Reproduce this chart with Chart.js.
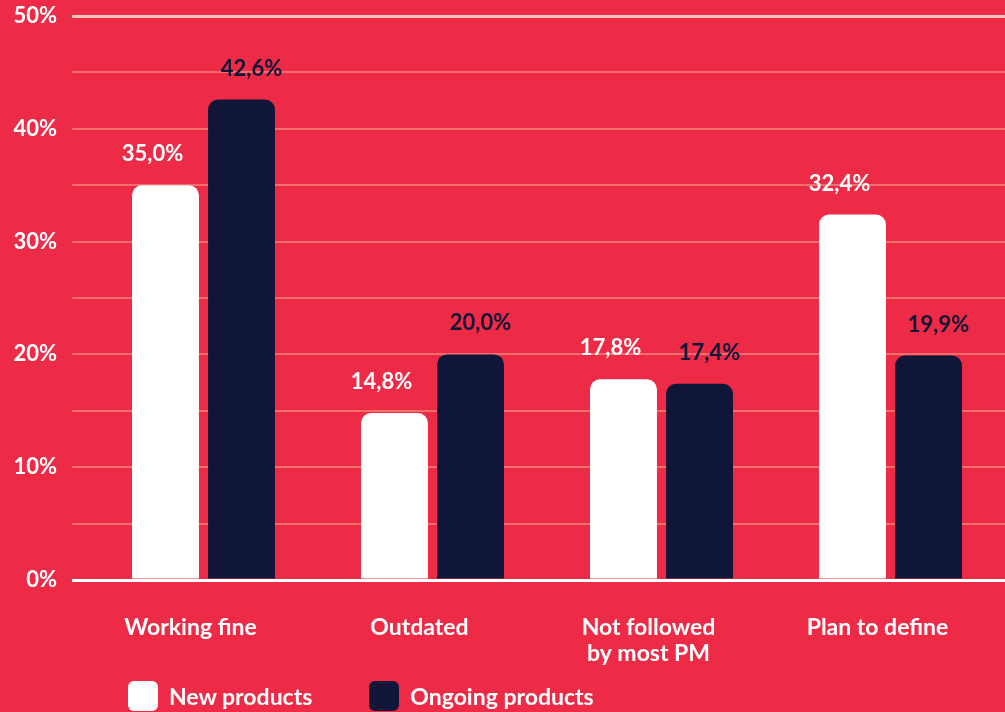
<!DOCTYPE html>
<html>
<head>
<meta charset="utf-8">
<script src="https://cdn.jsdelivr.net/npm/chart.js@4.4.1/dist/chart.umd.min.js"></script>
<style>
  body { margin: 0; background: #ED2B47; }
  #wrap { position: relative; width: 1005px; height: 712px; overflow: hidden; background: #ED2B47; }
  #legend { position: absolute; left: 128px; top: 681px; display: flex; align-items: center;
            font-family: Lato, sans-serif; font-weight: bold; font-size: 23px; color: #fff; }
  #legend .item { display: flex; align-items: center; margin-right: 57px; }
  #legend .box { width: 30px; height: 30px; border-radius: 6px; margin-right: 11px; }
</style>
</head>
<body>
<div id="wrap">
  <canvas id="chart" width="1005" height="712"></canvas>
  <div id="legend"></div>
</div>
<script>
// categories and values
const categories = ['Working fine', 'Outdated', ['Not followed', 'by most PM'], 'Plan to define'];
const newProducts = [35.0, 14.8, 17.8, 32.4];
const ongoingProducts = [42.6, 20.0, 17.4, 19.9];
const seriesNames = ['New products', 'Ongoing products'];
const yTicks = [0, 10, 20, 30, 40, 50];

const NAVY = '#0F1638';
const WHITE = '#FFFFFF';

// value labels above the bars
const valueLabels = {
  id: 'valueLabels',
  afterDatasetsDraw(chart) {
    const ctx = chart.ctx;
    ctx.save();
    ctx.font = 'bold 22px Lato, sans-serif';
    ctx.textAlign = 'center';
    ctx.textBaseline = 'middle';
    chart.data.datasets.forEach((ds, i) => {
      const meta = chart.getDatasetMeta(i);
      const dx = i === 0 ? -13 : 10;
      ctx.fillStyle = ds.labelColor;
      meta.data.forEach((bar, j) => {
        const txt = ds.data[j].toFixed(1).replace('.', ',') + '%';
        ctx.fillText(txt, bar.x + dx, bar.y - 31);
      });
    });
    ctx.restore();
  }
};

const radius = { topLeft: 10, topRight: 10, bottomLeft: 0, bottomRight: 0 };

const chart = new Chart(document.getElementById('chart'), {
  type: 'bar',
  data: {
    labels: categories,
    datasets: [
      { label: seriesNames[0], data: newProducts, backgroundColor: WHITE, labelColor: WHITE,
        borderRadius: radius, borderSkipped: false, barPercentage: 0.88, categoryPercentage: 0.664 },
      { label: seriesNames[1], data: ongoingProducts, backgroundColor: NAVY, labelColor: NAVY,
        borderRadius: radius, borderSkipped: false, barPercentage: 0.88, categoryPercentage: 0.664 }
    ]
  },
  options: {
    responsive: false,
    devicePixelRatio: 1,
    animation: false,
    layout: { padding: { top: 16, right: 0, bottom: 45, left: 0 } },
    plugins: {
      legend: { display: false },
      tooltip: { enabled: false }
    },
    scales: {
      x: {
        grid: { display: false, drawTicks: false },
        border: { display: false },
        ticks: {
          color: WHITE,
          font: { family: 'Lato', weight: 'bold', size: 23, lineHeight: 1.13 },
          padding: 35,
          labelOffset: -13,
          maxRotation: 0,
          autoSkip: false
        },
        afterFit: s => { s.height = 87; }
      },
      y: {
        min: 0,
        max: 50,
        border: { display: false },
        grid: {
          drawTicks: true,
          tickLength: 17,
          color: c => c.tick.value === 0 ? WHITE : (c.tick.value === 50 ? '#F7C6BE' : '#F36E6C'),
          lineWidth: c => (c.tick.value === 0 || c.tick.value === 50) ? 3 : 2
        },
        ticks: {
          stepSize: 5,
          color: WHITE,
          padding: 15,
          font: { family: 'Lato', weight: 'bold', size: 22 },
          callback: v => yTicks.includes(v) ? v + '%' : ''
        },
        afterFit: s => { s.width = 89; s.paddingTop = 0; s.paddingBottom = 0; }
      }
    }
  },
  plugins: [valueLabels]
});

// legend built from the datasets
const legend = document.getElementById('legend');
chart.data.datasets.forEach(ds => {
  const item = document.createElement('div');
  item.className = 'item';
  const box = document.createElement('span');
  box.className = 'box';
  box.style.background = ds.backgroundColor;
  const txt = document.createElement('span');
  txt.textContent = ds.label;
  item.appendChild(box);
  item.appendChild(txt);
  legend.appendChild(item);
});
</script>
</body>
</html>
